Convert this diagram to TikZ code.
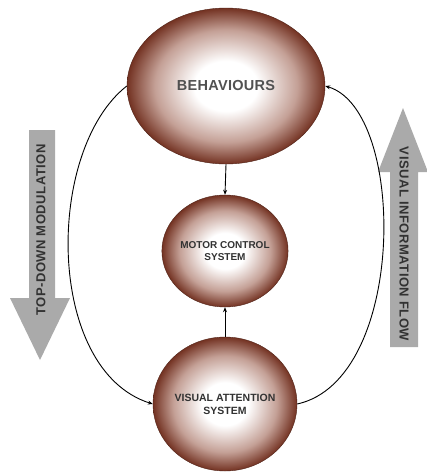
\documentclass[tikz,border=0pt]{standalone}
\usepackage{fontspec}
\setmainfont{Liberation Sans}
\usetikzlibrary{shapes.geometric,arrows.meta}
\definecolor{browndark}{RGB}{115,50,34}
\definecolor{brownmid}{RGB}{196,160,150}
\definecolor{arrowgray}{RGB}{170,170,170}
\definecolor{textgray}{RGB}{50,50,50}
\pgfdeclareradialshading{ballshade}{\pgfpointorigin}{color(0bp)=(white); color(8bp)=(white); color(18bp)=(brownmid); color(25bp)=(browndark); color(50bp)=(browndark)}
\tikzset{
  ball/.style={ellipse, shading=ballshade, draw=browndark!70!black, line width=0.4pt, inner sep=0pt, text=textgray, align=center, font=\bfseries},
  conn/.style={-{Stealth[length=5pt,width=4pt]}, line width=0.9pt, black},
  bigarrow/.style={fill=arrowgray, draw=none},
  sidetext/.style={font=\fontsize{13}{15}\selectfont\bfseries, text=textgray, inner sep=0pt}
}
\begin{document}
\begin{tikzpicture}[x=1pt,y=-1pt]
\useasboundingbox (0,0) rectangle (426,474);
% grey side arrows
\fill[bigarrow] (29,130) -- (55,130) -- (55,298) -- (70,298) -- (40,360) -- (10,298) -- (29,298) -- cycle;
\fill[bigarrow] (390,347) -- (418,347) -- (418,172) -- (428,172) -- (403,108) -- (378,172) -- (390,172) -- cycle;
\node[sidetext, rotate=90] (tdm) at (41,230) {\addfontfeature{LetterSpace=4}TOP-DOWN MODULATION};
\node[sidetext, rotate=-90] (vif) at (404,244) {\addfontfeature{LetterSpace=4}VISUAL INFORMATION FLOW};
% nodes
\node[ball, minimum width=198pt, minimum height=156pt, text=textgray!85, font=\fontsize{14.5}{17}\selectfont\bfseries] (beh) at (226,86) {\addfontfeature{LetterSpace=2}BEHAVIOURS};
\node[ball, minimum width=124pt, minimum height=112pt, font=\fontsize{10}{12}\selectfont\bfseries] (mot) at (225,251) {MOTOR CONTROL\\SYSTEM};
\node[ball, minimum width=144pt, minimum height=134pt, font=\fontsize{10.5}{13}\selectfont\bfseries] (vis) at (225,404) {VISUAL ATTENTION\\SYSTEM};
% connectors
\draw[conn] (beh.south) -- (mot.north);
\draw[conn] (vis.north) -- (mot.south);
\draw[conn] (beh.west) .. controls (45,150) and (45,370) .. (vis.west);
\draw[conn] (vis.east) .. controls (407,380) and (407,110) .. (beh.east);
\end{tikzpicture}
\end{document}
